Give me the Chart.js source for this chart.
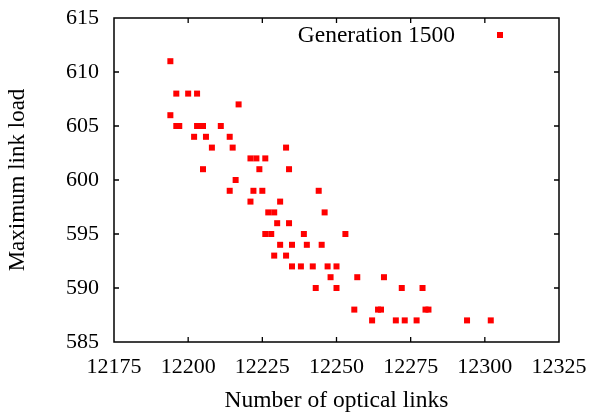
<!DOCTYPE html>
<html>
<head>
<meta charset="utf-8">
<script src="https://cdn.jsdelivr.net/npm/chart.js@4/dist/chart.umd.min.js"></script>
<style>
html,body{margin:0;padding:0;background:#fff;}
#wrap{width:592px;height:412px;position:relative;}
</style>
</head>
<body>
<div id="wrap"><canvas id="c" width="592" height="412"></canvas></div>
<script>
const seriesName = "Generation 1500";
const xTitle = "Number of optical links";
const yTitle = "Maximum link load";
const xTicks = [12175, 12200, 12225, 12250, 12275, 12300, 12325];
const yTicks = [585, 590, 595, 600, 605, 610, 615];
const opticalLinks = [
  12194,
  12196, 12200, 12203,
  12217,
  12194,
  12196, 12197, 12203, 12205, 12211,
  12202, 12206, 12214,
  12208, 12215, 12233,
  12221, 12223, 12226,
  12205, 12224, 12234,
  12216,
  12214, 12222, 12225, 12244,
  12221, 12231,
  12227, 12229, 12246,
  12230, 12234,
  12226, 12228, 12239, 12253,
  12231, 12235, 12240, 12245,
  12229, 12233,
  12235, 12238, 12242, 12247, 12250,
  12248, 12257, 12266,
  12243, 12250, 12272, 12279,
  12256, 12264, 12265, 12280, 12281,
  12262, 12270, 12273, 12277, 12294, 12302
];
const maxLinkLoad = [
  611,
  608, 608, 608,
  607,
  606,
  605, 605, 605, 605, 605,
  604, 604, 604,
  603, 603, 603,
  602, 602, 602,
  601, 601, 601,
  600,
  599, 599, 599, 599,
  598, 598,
  597, 597, 597,
  596, 596,
  595, 595, 595, 595,
  594, 594, 594, 594,
  593, 593,
  592, 592, 592, 592, 592,
  591, 591, 591,
  590, 590, 590, 590,
  588, 588, 588, 588, 588,
  587, 587, 587, 587, 587, 587
];

const FONT = "'Liberation Serif', 'Times New Roman', serif";
const pts = opticalLinks.map((x, i) => ({x: x, y: maxLinkLoad[i]}));

const framePlugin = {
  id: 'frame',
  afterDatasetsDraw(chart) {
    const ctx = chart.ctx;
    const a = chart.chartArea;
    const xs = chart.scales.x, ys = chart.scales.y;
    const tl = 5;
    ctx.save();
    ctx.strokeStyle = '#000';
    ctx.lineWidth = 1.3;
    ctx.beginPath();
    xTicks.forEach(v => {
      const px = xs.getPixelForValue(v);
      if (v !== xTicks[0] && v !== xTicks[xTicks.length - 1]) {
        ctx.moveTo(px, a.bottom); ctx.lineTo(px, a.bottom - tl);
        ctx.moveTo(px, a.top); ctx.lineTo(px, a.top + tl);
      }
    });
    yTicks.forEach(v => {
      const py = ys.getPixelForValue(v);
      if (v !== yTicks[0] && v !== yTicks[yTicks.length - 1]) {
        ctx.moveTo(a.left, py); ctx.lineTo(a.left + tl, py);
        ctx.moveTo(a.right, py); ctx.lineTo(a.right - tl, py);
      }
    });
    ctx.stroke();
    ctx.lineWidth = 1.5;
    ctx.strokeRect(a.left, a.top, a.right - a.left, a.bottom - a.top);
    // legend
    ctx.font = "23.5px " + FONT;
    ctx.fillStyle = '#000';
    ctx.textAlign = 'right';
    ctx.textBaseline = 'middle';
    ctx.fillText(seriesName, 455, 36);
    ctx.fillStyle = '#ff0000';
    ctx.fillRect(497, 32, 6, 6);
    ctx.restore();
  }
};

new Chart(document.getElementById('c'), {
  type: 'scatter',
  data: {
    datasets: [{
      label: seriesName,
      data: pts,
      pointStyle: 'rect',
      pointRadius: 4.25,
      pointHoverRadius: 4.25,
      backgroundColor: '#ff0000',
      borderColor: '#ff0000',
      borderWidth: 0
    }]
  },
  options: {
    responsive: false,
    animation: false,
    events: [],
    layout: {padding: {left: 0, right: 33, top: 18, bottom: 0}},
    plugins: {legend: {display: false}, tooltip: {enabled: false}},
    scales: {
      x: {
        type: 'linear',
        min: xTicks[0],
        max: xTicks[xTicks.length - 1],
        afterBuildTicks: s => { s.ticks = xTicks.map(v => ({value: v})); },
        afterFit: s => { s.height = 70; s.paddingLeft = 0; s.paddingRight = 0; },
        grid: {display: false, drawTicks: false},
        border: {display: false},
        ticks: {
          color: '#000',
          font: {family: FONT, size: 22},
          padding: 12,
          maxRotation: 0,
          autoSkip: false,
          callback: v => String(v)
        },
        title: {
          display: true,
          text: xTitle,
          color: '#000',
          font: {family: FONT, size: 23.5, lineHeight: 0.95},
          padding: {top: 0, bottom: 0}
        }
      },
      y: {
        type: 'linear',
        min: yTicks[0],
        max: yTicks[yTicks.length - 1],
        afterBuildTicks: s => { s.ticks = yTicks.map(v => ({value: v})); },
        afterFit: s => { s.width = 114; s.paddingTop = 0; s.paddingBottom = 0; },
        grid: {display: false, drawTicks: false},
        border: {display: false},
        ticks: {
          color: '#000',
          font: {family: FONT, size: 22},
          padding: 15,
          autoSkip: false,
          callback: v => String(v)
        },
        title: {
          display: true,
          text: yTitle,
          color: '#000',
          font: {family: FONT, size: 23, lineHeight: 1.2},
          padding: {top: 4, bottom: 0}
        }
      }
    }
  },
  plugins: [framePlugin]
});
</script>
</body>
</html>
